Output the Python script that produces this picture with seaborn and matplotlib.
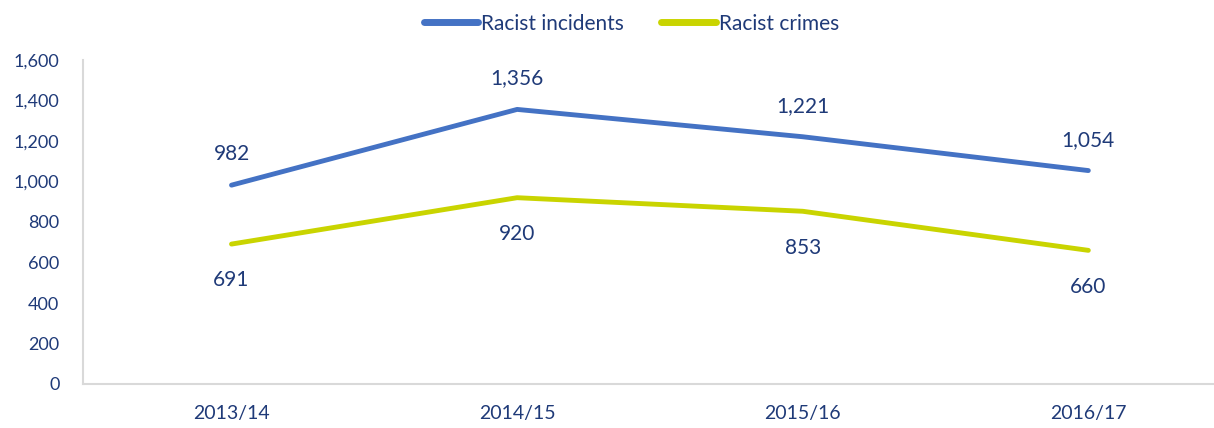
import matplotlib
matplotlib.use("Agg")
import matplotlib.pyplot as plt
import seaborn as sns
import pandas as pd
from matplotlib.ticker import FuncFormatter
from matplotlib.lines import Line2D

years = ["2013/14", "2014/15", "2015/16", "2016/17"]
incidents = [982, 1356, 1221, 1054]
crimes = [691, 920, 853, 660]

sns.set_theme(style="white")
plt.rcParams['font.family'] = ['Lato', 'DejaVu Sans']

navy = "#1F3A78"
blue = "#4472C4"
lime = "#C9D400"

df = pd.DataFrame({
    "year": years * 2,
    "value": incidents + crimes,
    "series": ["Racist incidents"] * 4 + ["Racist crimes"] * 4,
})
df["x"] = list(range(4)) * 2

fig = plt.figure(figsize=(12.14, 4.28), dpi=100)
ax = fig.add_axes([83/1214, 1 - 384/428, 1 - 83/1214, (384 - 60)/428])

sns.lineplot(data=df, x="x", y="value", hue="series",
             palette={"Racist incidents": blue, "Racist crimes": lime},
             linewidth=3.5, ax=ax, legend=False)

for i, v in enumerate(incidents):
    ax.annotate(f"{v:,}", (i, v), xytext=(0, 15), textcoords="offset points",
                ha="center", va="bottom", fontsize=15, color=navy)
for i, v in enumerate(crimes):
    ax.annotate(f"{v:,}", (i, v), xytext=(0, -19), textcoords="offset points",
                ha="center", va="top", fontsize=15, color=navy)

ax.set_xlim(-0.52, 3.44)
ax.set_ylim(0, 1600)
ax.set_yticks(range(0, 1601, 200))
ax.yaxis.set_major_formatter(FuncFormatter(lambda v, p: f"{int(v):,}"))
ax.set_xticks(range(4))
ax.set_xticklabels(years)
ax.tick_params(axis="both", colors=navy, labelsize=13, length=0)
ax.tick_params(axis="x", pad=15, labelsize=14)
ax.tick_params(axis="y", pad=17)
ax.set_xlabel("")
ax.set_ylabel("")
for s in ["top", "right"]:
    ax.spines[s].set_visible(False)
for s in ["left", "bottom"]:
    ax.spines[s].set_color("#D9D9D9")
    ax.spines[s].set_linewidth(1.5)

handles = [Line2D([0], [0], color=blue, lw=5, solid_capstyle="round"),
           Line2D([0], [0], color=lime, lw=5, solid_capstyle="round")]
fig.legend(handles, ["Racist incidents", "Racist crimes"], loc="center",
           bbox_to_anchor=(0.52, 0.945), ncol=2, frameon=False, fontsize=15,
           labelcolor=navy, handlelength=2.6, handletextpad=0.15, columnspacing=1.8)

fig.savefig("out.png", dpi=100)
